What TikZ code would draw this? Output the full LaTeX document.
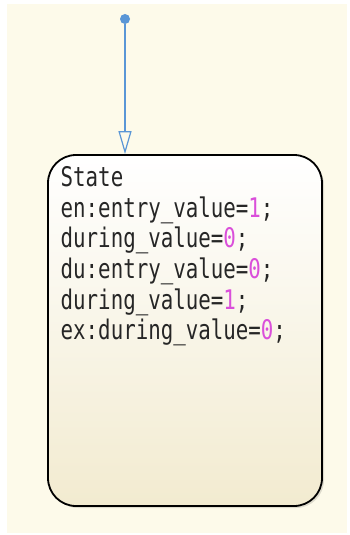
\documentclass[tikz,border=0pt]{standalone}
\usepackage{fontspec}
\newfontfamily\smono[FakeStretch=0.77]{DejaVu Sans Mono}
\usetikzlibrary{arrows.meta,shadows}
\definecolor{bgcream}{HTML}{FDFAEA}
\definecolor{boxbot}{HTML}{F2EBD0}
\definecolor{trblue}{HTML}{5A96D6}
\definecolor{valmag}{HTML}{DA4FDA}
\definecolor{txtgray}{HTML}{262626}
\tikzset{
  statebox/.style={draw=black, line width=1.8pt, rounded corners=28pt,
    top color=white, bottom color=boxbot,
    drop shadow={shadow xshift=2pt, shadow yshift=-2pt, fill=black, opacity=0.12},
    minimum width=274pt, minimum height=351pt, inner sep=0pt},
  codeline/.style={anchor=base west, inner sep=0pt, text=txtgray, font=\smono\fontsize{27pt}{30pt}\selectfont},
  trans/.style={draw=trblue, line width=1.3pt, -{Triangle[open, length=23pt, width=13pt, line width=1.2pt]}},
  initdot/.style={circle, fill=trblue, minimum size=10pt, inner sep=0pt}
}
\newcommand{\vv}[1]{\textcolor{valmag}{#1}}
\begin{document}
\begin{tikzpicture}[x=1pt,y=-1pt]
\fill[white] (0,0) rectangle (349,535);
\fill[bgcream] (7,4) rectangle (347,533);
\useasboundingbox (0,0) rectangle (349,535);
\node[statebox] (state) at (185,330.5) {};
\node[initdot] (init) at (125,19) {};
\draw[trans] (init) -- (init |- state.north);
\node[codeline] (t1) at (60.5,186.7) {State};
\node[codeline] (t2) at (60.5,217.2) {en:entry\_value=\vv{1};};
\node[codeline] (t3) at (60.5,247.8) {during\_value=\vv{0};};
\node[codeline] (t4) at (60.5,278.4) {du:entry\_value=\vv{0};};
\node[codeline] (t5) at (60.5,309.0) {during\_value=\vv{1};};
\node[codeline] (t6) at (60.5,339.6) {ex:during\_value=\vv{0};};
\end{tikzpicture}
\end{document}
